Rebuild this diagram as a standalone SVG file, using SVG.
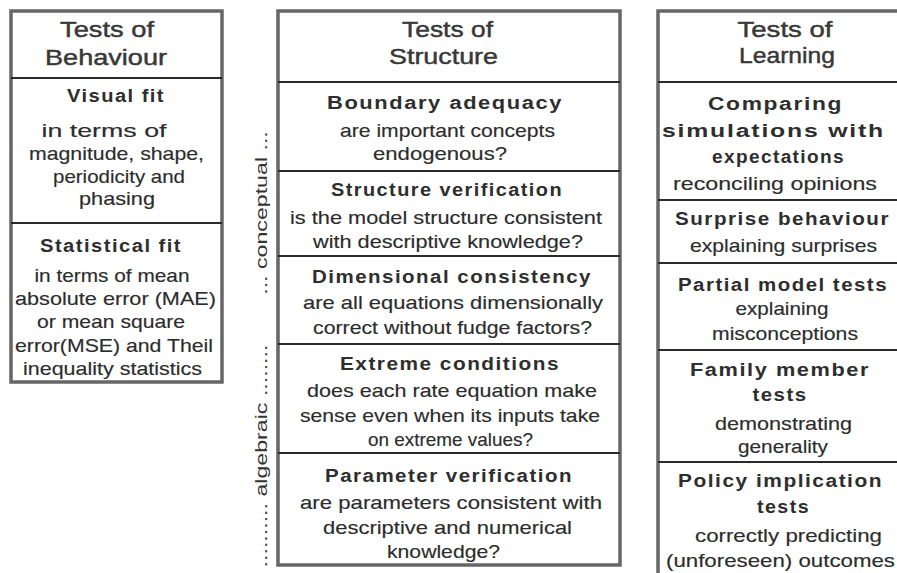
<svg xmlns="http://www.w3.org/2000/svg" width="897" height="573" viewBox="0 0 897 573">
<style>
  text { font-family: "Liberation Sans", Arial, sans-serif; text-anchor: middle; fill: #2c2c2c; }
  .hd { font-size: 22.5px; fill: #383838; stroke: #383838; stroke-width: 0.45px; }
  .tt { font-size: 18px; font-weight: bold; letter-spacing: 1.3px; fill: #2e2e2e; }
  .bd { font-size: 18.5px; stroke: #2c2c2c; stroke-width: 0.15px; }
  .vl { font-size: 16px; fill: #333; }
  .frame { fill: #fff; stroke: #666; stroke-width: 3.5; }
  .div { stroke: #2a2a2a; stroke-width: 2; fill: none; }
</style>
<rect width="897" height="573" fill="#fff"/>

<g id="behaviour">
  <rect class="frame" x="11" y="11" width="211" height="371"/>
  <g class="dividers">
    <line class="div" x1="11" y1="78" x2="222" y2="78"/>
    <line class="div" x1="11" y1="223" x2="222" y2="223"/>
  </g>
  <text class="hd" x="107" y="37" textLength="94" lengthAdjust="spacingAndGlyphs">Tests of</text>
  <text class="hd" x="106" y="65" textLength="122" lengthAdjust="spacingAndGlyphs">Behaviour</text>
  <g id="visual-fit">
    <text class="tt" x="116" y="102" textLength="98" lengthAdjust="spacingAndGlyphs">Visual fit</text>
    <text class="bd" x="104" y="137" textLength="125" lengthAdjust="spacingAndGlyphs">in terms of</text>
    <text class="bd" x="116.5" y="160" textLength="175" lengthAdjust="spacingAndGlyphs">magnitude, shape,</text>
    <text class="bd" x="119" y="183" textLength="132" lengthAdjust="spacingAndGlyphs">periodicity and</text>
    <text class="bd" x="117" y="205" textLength="76" lengthAdjust="spacingAndGlyphs">phasing</text>
  </g>
  <g id="statistical-fit">
    <text class="tt" x="111" y="252" textLength="142" lengthAdjust="spacingAndGlyphs">Statistical fit</text>
    <text class="bd" x="112" y="282" textLength="155" lengthAdjust="spacingAndGlyphs">in terms of mean</text>
    <text class="bd" x="115.5" y="305" textLength="201" lengthAdjust="spacingAndGlyphs">absolute error (MAE)</text>
    <text class="bd" x="111" y="328" textLength="148" lengthAdjust="spacingAndGlyphs">or mean square</text>
    <text class="bd" x="114" y="352" textLength="198" lengthAdjust="spacingAndGlyphs">error(MSE) and Theil</text>
    <text class="bd" x="112.5" y="375" textLength="179" lengthAdjust="spacingAndGlyphs">inequality statistics</text>
  </g>
</g>

<g id="structure">
  <rect class="frame" x="278" y="11" width="342" height="554"/>
  <g class="dividers">
    <line class="div" x1="278" y1="82" x2="620" y2="82"/>
    <line class="div" x1="278" y1="171" x2="620" y2="171"/>
    <line class="div" x1="278" y1="256" x2="620" y2="256"/>
    <line class="div" x1="278" y1="344" x2="620" y2="344"/>
    <line class="div" x1="278" y1="453" x2="620" y2="453"/>
  </g>
  <text class="hd" x="447.5" y="37" textLength="91" lengthAdjust="spacingAndGlyphs">Tests of</text>
  <text class="hd" x="443.5" y="64" textLength="109" lengthAdjust="spacingAndGlyphs">Structure</text>
  <g id="boundary-adequacy">
    <text class="tt" x="445" y="109" textLength="236" lengthAdjust="spacingAndGlyphs">Boundary adequacy</text>
    <text class="bd" x="447.5" y="137" textLength="215" lengthAdjust="spacingAndGlyphs">are important concepts</text>
    <text class="bd" x="440" y="160" textLength="134" lengthAdjust="spacingAndGlyphs">endogenous?</text>
  </g>
  <g id="structure-verification">
    <text class="tt" x="447" y="196" textLength="232" lengthAdjust="spacingAndGlyphs">Structure verification</text>
    <text class="bd" x="446" y="224" textLength="312" lengthAdjust="spacingAndGlyphs">is the model structure consistent</text>
    <text class="bd" x="448" y="248" textLength="270" lengthAdjust="spacingAndGlyphs">with descriptive knowledge?</text>
  </g>
  <g id="dimensional-consistency">
    <text class="tt" x="452" y="283" textLength="280" lengthAdjust="spacingAndGlyphs">Dimensional consistency</text>
    <text class="bd" x="453" y="309" textLength="300" lengthAdjust="spacingAndGlyphs">are all equations dimensionally</text>
    <text class="bd" x="452.5" y="334" textLength="279" lengthAdjust="spacingAndGlyphs">correct without fudge factors?</text>
  </g>
  <g id="extreme-conditions">
    <text class="tt" x="450" y="370" textLength="220" lengthAdjust="spacingAndGlyphs">Extreme conditions</text>
    <text class="bd" x="452" y="397" textLength="290" lengthAdjust="spacingAndGlyphs">does each rate equation make</text>
    <text class="bd" x="450" y="422" textLength="300" lengthAdjust="spacingAndGlyphs">sense even when its inputs take</text>
    <text class="bd" x="450.5" y="446" textLength="165" lengthAdjust="spacingAndGlyphs">on extreme values?</text>
  </g>
  <g id="parameter-verification">
    <text class="tt" x="449" y="482" textLength="248" lengthAdjust="spacingAndGlyphs">Parameter verification</text>
    <text class="bd" x="451" y="509" textLength="302" lengthAdjust="spacingAndGlyphs">are parameters consistent with</text>
    <text class="bd" x="447.5" y="534" textLength="249" lengthAdjust="spacingAndGlyphs">descriptive and numerical</text>
    <text class="bd" x="443.5" y="558" textLength="113" lengthAdjust="spacingAndGlyphs">knowledge?</text>
  </g>
</g>

<g id="axis-labels">
  <text class="vl" transform="translate(267,213) rotate(-90) scale(1.45,1)">... conceptual ...</text>
  <text class="vl" transform="translate(267,456) rotate(-90) scale(1.45,1)">.......... algebraic ........</text>
</g>

<g id="learning">
  <rect class="frame" x="658" y="11" width="260" height="580"/>
  <g class="dividers">
    <line class="div" x1="658" y1="82" x2="918" y2="82"/>
    <line class="div" x1="658" y1="200" x2="918" y2="200"/>
    <line class="div" x1="658" y1="263" x2="918" y2="263"/>
    <line class="div" x1="658" y1="350" x2="918" y2="350"/>
    <line class="div" x1="658" y1="462" x2="918" y2="462"/>
  </g>
  <text class="hd" x="785" y="37" textLength="95" lengthAdjust="spacingAndGlyphs">Tests of</text>
  <text class="hd" x="787" y="63" textLength="96" lengthAdjust="spacingAndGlyphs">Learning</text>
  <g id="comparing-simulations">
    <text class="tt" x="775.5" y="110" textLength="135" lengthAdjust="spacingAndGlyphs">Comparing</text>
    <text class="tt" x="773.5" y="137" textLength="223" lengthAdjust="spacingAndGlyphs">simulations with</text>
    <text class="tt" x="778.5" y="163" textLength="133" lengthAdjust="spacingAndGlyphs">expectations</text>
    <text class="bd" x="775" y="190" textLength="204" lengthAdjust="spacingAndGlyphs">reconciling opinions</text>
  </g>
  <g id="surprise-behaviour">
    <text class="tt" x="782.5" y="225" textLength="215" lengthAdjust="spacingAndGlyphs">Surprise behaviour</text>
    <text class="bd" x="783.5" y="252" textLength="187" lengthAdjust="spacingAndGlyphs">explaining surprises</text>
  </g>
  <g id="partial-model-tests">
    <text class="tt" x="783" y="291" textLength="210" lengthAdjust="spacingAndGlyphs">Partial model tests</text>
    <text class="bd" x="782" y="315" textLength="93" lengthAdjust="spacingAndGlyphs">explaining</text>
    <text class="bd" x="785" y="340" textLength="146" lengthAdjust="spacingAndGlyphs">misconceptions</text>
  </g>
  <g id="family-member-tests">
    <text class="tt" x="780" y="376" textLength="180" lengthAdjust="spacingAndGlyphs">Family member</text>
    <text class="tt" x="780" y="401" textLength="55" lengthAdjust="spacingAndGlyphs">tests</text>
    <text class="bd" x="783.5" y="430" textLength="137" lengthAdjust="spacingAndGlyphs">demonstrating</text>
    <text class="bd" x="783" y="453" textLength="90" lengthAdjust="spacingAndGlyphs">generality</text>
  </g>
  <g id="policy-implication-tests">
    <text class="tt" x="780.5" y="487" textLength="205" lengthAdjust="spacingAndGlyphs">Policy implication</text>
    <text class="tt" x="783.5" y="513" textLength="53" lengthAdjust="spacingAndGlyphs">tests</text>
    <text class="bd" x="788.5" y="542" textLength="187" lengthAdjust="spacingAndGlyphs">correctly predicting</text>
    <text class="bd" x="780.5" y="567" textLength="229" lengthAdjust="spacingAndGlyphs">(unforeseen) outcomes</text>
  </g>
</g>
</svg>
